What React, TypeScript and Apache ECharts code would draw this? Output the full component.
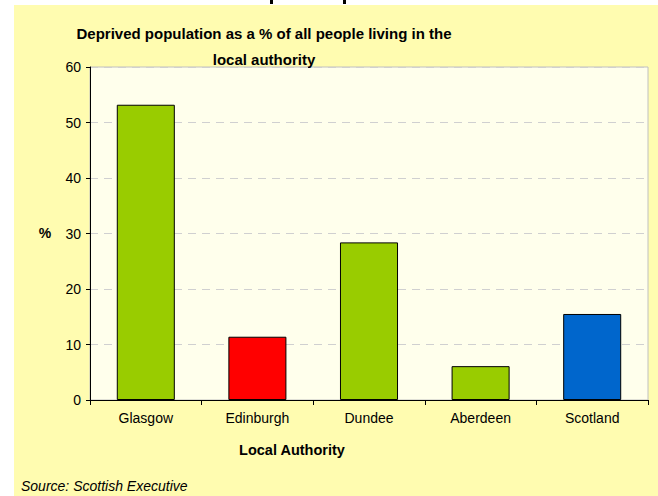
import React, { useEffect, useRef } from "react";
import * as echarts from "echarts";

const categories = ["Glasgow", "Edinburgh", "Dundee", "Aberdeen", "Scotland"];
const values = [53.2, 11.4, 28.4, 6.1, 15.5];
const barColors = ["#99CC00", "#FF0000", "#99CC00", "#99CC00", "#0066CC"];
const yTicks = [0, 10, 20, 30, 40, 50, 60];

export default function App() {
  const ref = useRef<HTMLDivElement>(null);
  useEffect(() => {
    const chart = echarts.init(ref.current!, undefined, { renderer: "svg" });
    const font = "Arial, 'Liberation Sans', sans-serif";
    chart.setOption({
      animation: false,
      backgroundColor: "#FFFFFF",
      textStyle: { fontFamily: font },
      graphic: [
        { type: "rect", z: -10, shape: { x: 14, y: 5, width: 644, height: 491 }, style: { fill: "#FFFCB0" } },
        { type: "rect", shape: { x: 270, y: 0, width: 3, height: 4 }, style: { fill: "#000" } },
        { type: "rect", shape: { x: 343, y: 0, width: 3, height: 4 }, style: { fill: "#000" } },
        {
          type: "text", x: 264, y: 26,
          style: { text: "Deprived population as a % of all people living in the", font: `bold 15px ${font}`, fill: "#000", align: "center", verticalAlign: "top" },
        },
        {
          type: "text", x: 264, y: 52,
          style: { text: "local authority", font: `bold 15px ${font}`, fill: "#000", align: "center", verticalAlign: "top" },
        },
        {
          type: "text", x: 45, y: 233,
          style: { text: "%", font: `bold 14px ${font}`, fill: "#000", align: "center", verticalAlign: "middle" },
        },
        {
          type: "text", x: 292, y: 450,
          style: { text: "Local Authority", font: `bold 14.5px ${font}`, fill: "#000", align: "center", verticalAlign: "middle" },
        },
        {
          type: "text", x: 21, y: 486,
          style: { text: "Source: Scottish Executive", font: `italic 14px ${font}`, fill: "#000", align: "left", verticalAlign: "middle" },
        },
      ],
      grid: {
        left: 90, top: 67, right: 10, bottom: 96,
        show: true, backgroundColor: "#FFFFEC", borderColor: "#C0C0C0", borderWidth: 1,
      },
      xAxis: {
        type: "category",
        data: categories,
        axisLine: { lineStyle: { color: "#000", width: 1 } },
        axisTick: { show: true, length: 5, lineStyle: { color: "#000" } },
        axisLabel: { color: "#000", fontSize: 14, margin: 11, fontFamily: font },
      },
      yAxis: {
        type: "value",
        min: yTicks[0], max: yTicks[yTicks.length - 1], interval: 10,
        axisLine: { show: true, lineStyle: { color: "#000", width: 1 } },
        axisTick: { show: true, length: 4, lineStyle: { color: "#000" } },
        axisLabel: { color: "#000", fontSize: 14, margin: 9, fontFamily: font },
        splitLine: { show: true, lineStyle: { color: "#D0D0D0", type: [8, 6] } },
      },
      series: [
        {
          type: "bar",
          barWidth: "52%",
          data: values.map((v, i) => ({ value: v, itemStyle: { color: barColors[i] } })),
          itemStyle: { borderColor: "#000", borderWidth: 1 },
        },
      ],
    });
    return () => chart.dispose();
  }, []);
  return <div ref={ref} style={{ position: "fixed", left: 0, top: 0, width: 658, height: 496 }} />;
}
